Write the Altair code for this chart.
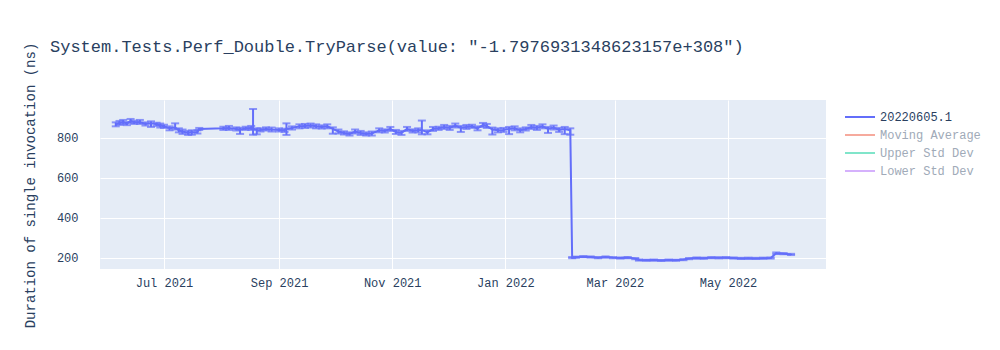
import altair as alt
import pandas as pd

# ---- data ----
dates = [
    "2021-06-05", "2021-06-07", "2021-06-09", "2021-06-11", "2021-06-13", "2021-06-15",
    "2021-06-18", "2021-06-21", "2021-06-24", "2021-06-27", "2021-06-29", "2021-07-01",
    "2021-07-04", "2021-07-07", "2021-07-09", "2021-07-11", "2021-07-14", "2021-07-16",
    "2021-07-19", "2021-07-20",
    "2021-08-02", "2021-08-05", "2021-08-09", "2021-08-11", "2021-08-14", "2021-08-17",
    "2021-08-18", "2021-08-20", "2021-08-22", "2021-08-25", "2021-08-28", "2021-09-01",
    "2021-09-04", "2021-09-05", "2021-09-08", "2021-09-12", "2021-09-15", "2021-09-18",
    "2021-09-21", "2021-09-24", "2021-09-27", "2021-09-30", "2021-10-03", "2021-10-06",
    "2021-10-09", "2021-10-12", "2021-10-15", "2021-10-18", "2021-10-21", "2021-10-25",
    "2021-10-28", "2021-10-31", "2021-11-03", "2021-11-06", "2021-11-09", "2021-11-12",
    "2021-11-15", "2021-11-17", "2021-11-20", "2021-11-23", "2021-11-26", "2021-11-29",
    "2021-12-02", "2021-12-05", "2021-12-08", "2021-12-11", "2021-12-14", "2021-12-17",
    "2021-12-20", "2021-12-22", "2021-12-25", "2021-12-28", "2021-12-31", "2022-01-03",
    "2022-01-06", "2022-01-09", "2022-01-12", "2022-01-15", "2022-01-18", "2022-01-21",
    "2022-01-24", "2022-01-27", "2022-01-30", "2022-02-02", "2022-02-05",
    "2022-02-06", "2022-02-08", "2022-02-12", "2022-02-16", "2022-02-20", "2022-02-24",
    "2022-02-28", "2022-03-04", "2022-03-08", "2022-03-12", "2022-03-14", "2022-03-18",
    "2022-03-22", "2022-03-26", "2022-03-30", "2022-04-03", "2022-04-07", "2022-04-10",
    "2022-04-14", "2022-04-18", "2022-04-22", "2022-04-26", "2022-04-30", "2022-05-04",
    "2022-05-08", "2022-05-12", "2022-05-16", "2022-05-20", "2022-05-24", "2022-05-27",
    "2022-05-31", "2022-06-04",
]
values = [
    868, 875, 880, 872, 885, 878,
    880, 870, 873, 868, 862, 858,
    848, 852, 838, 832, 825, 828,
    830, 845,
    848, 850, 845, 840, 848, 850,
    848, 838, 840, 845, 842, 840,
    838, 845, 850, 858, 860, 862,
    858, 855, 858, 845, 832, 825,
    820, 832, 825, 820, 822, 838,
    835, 845, 830, 825, 845, 835,
    838, 840, 828, 845, 848, 855,
    850, 862, 850, 855, 858, 848,
    865, 860, 842, 838, 840, 845,
    848, 838, 845, 855, 850, 858,
    845, 852, 840, 845, 838,
    200, 202, 205, 203, 200, 203,
    200, 198, 200, 195, 188, 187,
    188, 186, 188, 187, 190, 195,
    198, 197, 200, 199, 200, 198,
    196, 197, 196, 197, 198, 222,
    220, 216,
]
err_plus = [
    10, 10, 10, 8, 10, 8,
    10, 8, 10, 8, 10, 8,
    10, 21, 10, 10, 10, 10,
    8, 5,
    8, 10, 8, 10, 8, 10,
    97, 10, 8, 8, 10, 8,
    8, 28, 8, 10, 10, 10,
    10, 8, 10, 8, 10, 8,
    8, 10, 10, 8, 10, 10,
    8, 10, 10, 10, 10, 8,
    10, 47, 10, 10, 8, 10,
    10, 10, 10, 10, 8, 10,
    10, 10, 10, 10, 10, 10,
    10, 10, 8, 10, 10, 10,
    10, 10, 10, 10, 10,
    3, 3, 3, 3, 3, 3,
    3, 3, 3, 3, 3, 3,
    3, 3, 3, 3, 3, 3,
    3, 3, 3, 3, 3, 3,
    3, 3, 3, 3, 3, 4,
    3, 3,
]
err_minus = [
    10, 10, 10, 8, 10, 8,
    10, 8, 18, 8, 10, 8,
    10, 10, 10, 12, 10, 12,
    8, 5,
    8, 10, 8, 20, 8, 10,
    32, 20, 8, 8, 10, 8,
    8, 30, 8, 10, 10, 10,
    10, 8, 10, 24, 10, 8,
    8, 10, 10, 8, 10, 10,
    8, 10, 10, 10, 10, 8,
    10, 22, 10, 10, 8, 10,
    10, 10, 20, 10, 8, 10,
    10, 10, 25, 10, 10, 26,
    10, 10, 8, 10, 10, 10,
    20, 10, 10, 26, 22,
    3, 3, 3, 3, 3, 3,
    3, 3, 3, 3, 3, 3,
    3, 3, 3, 3, 3, 3,
    3, 3, 3, 3, 3, 3,
    3, 3, 3, 3, 3, 4,
    3, 3,
]
series_names = ["20220605.1", "Moving Average", "Upper Std Dev", "Lower Std Dev"]
series_colors = ["#636efa", "#f6aa9d", "#80e5ca", "#d5b1fc"]
y_ticks = [200, 400, 600, 800]
x_tick_dates = [(2021, 7), (2021, 9), (2021, 11), (2022, 1), (2022, 3), (2022, 5)]
title_text = 'System.Tests.Perf_Double.TryParse(value: "-1.7976931348623157e+308")'
y_title = "Duration of single invocation (ns)"

df = pd.DataFrame({
    "date": pd.to_datetime(dates),
    "value": values,
    "hi": [v + p for v, p in zip(values, err_plus)],
    "lo": [v - m for v, m in zip(values, err_minus)],
    "series": series_names[0],
})

FONT = "Liberation Mono"
TXT = "#2a3f5f"
LINE = "#636efa"

x_scale = alt.Scale(domain=[alt.DateTime(year=2021, month=5, date=27, hours=12),
                            alt.DateTime(year=2022, month=6, date=22, hours=20)])
y_scale = alt.Scale(domain=[143, 990], nice=False, zero=False)

x_axis = alt.Axis(
    values=[alt.DateTime(year=y, month=m, date=1) for y, m in x_tick_dates],
    format="%b %Y", title=None, grid=True, gridColor="white", gridWidth=1,
    ticks=False, tickSize=0, domain=False, labelPadding=8,
    labelFont=FONT, labelFontSize=12, labelColor=TXT,
)
y_axis = alt.Axis(
    values=y_ticks, title=y_title, grid=True, gridColor="white", gridWidth=1,
    ticks=False, tickSize=0, domain=False, labelPadding=22,
    labelFont=FONT, labelFontSize=12, labelColor=TXT,
    titleFont=FONT, titleFontSize=14, titleFontWeight="normal", titleColor=TXT,
    titleX=-70, titleY=85, titleBaseline="middle", titleAngle=-90,
)

base = alt.Chart(df)

line = base.mark_line(strokeWidth=2).encode(
    x=alt.X("date:T", scale=x_scale, axis=x_axis),
    y=alt.Y("value:Q", scale=y_scale, axis=y_axis),
    color=alt.Color(
        "series:N",
        scale=alt.Scale(domain=series_names, range=series_colors),
        legend=alt.Legend(
            title=None, orient="none", legendX=744, legendY=10,
            symbolType="stroke", symbolSize=900, symbolStrokeWidth=2,
            clipHeight=14, rowPadding=4,
            labelFont=FONT, labelFontSize=12, labelOffset=4,
            labelColor=alt.ExprRef("datum.label == '20220605.1' ? '#2a3f5f' : '#a0aab8'"),
        ),
    ),
)

err_rule = base.mark_rule(color=LINE, strokeWidth=2).encode(
    x="date:T", y="lo:Q", y2="hi:Q",
)
cap_hi = base.mark_tick(color=LINE, orient="horizontal", size=8, thickness=2).encode(
    x="date:T", y="hi:Q",
)
cap_lo = base.mark_tick(color=LINE, orient="horizontal", size=8, thickness=2).encode(
    x="date:T", y="lo:Q",
)

title_df = pd.DataFrame({"t": [title_text]})
title_mark = alt.Chart(title_df).mark_text(
    align="left", baseline="alphabetic", font=FONT, fontSize=17, color=TXT,
).encode(text="t:N", x=alt.value(-50), y=alt.value(-48))

chart = alt.layer(err_rule, cap_hi, cap_lo, line, title_mark).properties(
    width=726, height=169,
    background="white",
    autosize=alt.AutoSizeParams(type="none"),
    padding={"left": 100, "top": 100, "right": 174, "bottom": 81},
).configure_view(fill="#e5ecf6", stroke=None, strokeWidth=0)

chart.save("out.html", embed_options={"renderer": "svg", "actions": False})
